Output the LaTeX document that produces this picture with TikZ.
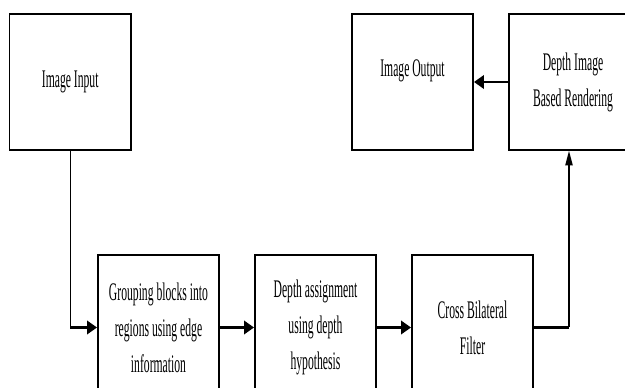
\documentclass[tikz,border=0pt]{standalone}
\usepackage{fontspec}
\setmainfont{Liberation Serif}[FakeStretch=0.46]
\usetikzlibrary{arrows.meta}

\tikzset{every picture/.style={line width=0.75pt}}
\tikzset{
  stage/.style={draw, line width=1.2pt, inner sep=0pt, align=center,
    font=\fontsize{19}{27}\selectfont},
  topbox/.style={stage, minimum width=91pt, minimum height=102pt},
  lowbox/.style={stage, minimum width=91pt, minimum height=109pt},
  flow/.style={line width=2pt, -{Triangle[length=7.5pt,width=10pt]}},
  riser/.style={line width=1pt},
}

\begin{document}
\begin{tikzpicture}[x=0.75pt,y=0.75pt,yscale=-1,xscale=1]
\clip (0,0) rectangle (625,388);

%Flowchart: Process [in]
\node[topbox] (imgin) at (70.25,82) {Image Input};
%Flowchart: Process [out]
\node[topbox, label={[stage, draw=none, yshift=8pt]center:Image Output}] (imgout) at (412.5,82) {};
%Flowchart: Process [dibr]
\node[topbox, minimum width=96pt] (dibr) at (573,82) {Depth Image\\Based Rendering};

%Flowchart: Process [grouping]
\node[lowbox] (group) at (158.5,327.5) {Grouping blocks into\\regions using edge\\information};
%Flowchart: Process [depth]
\node[lowbox] (depth) at (315.5,327.5) {Depth assignment\\using depth\\hypothesis};
%Flowchart: Process [filter]
\node[lowbox] (cbf) at (472.5,327.5) {Cross Bilateral\\Filter};

%Straight Lines
\coordinate (bend1) at (imgin.south |- group.west);
\draw[riser] (imgin.south) -- (bend1);
\draw[flow] (bend1) -- (group.west);
\draw[flow] (group.east) -- (depth.west);
\draw[flow] (depth.east) -- (cbf.west);

\coordinate (bend2) at (569,327.5);
\draw[line width=2pt] (cbf.east) -- (bend2);
\draw[riser, -{Triangle[length=11pt,width=5.5pt]}] (bend2) -- (bend2 |- dibr.south);

\draw[flow] (dibr.west) -- (imgout.east);

\end{tikzpicture}
\end{document}
